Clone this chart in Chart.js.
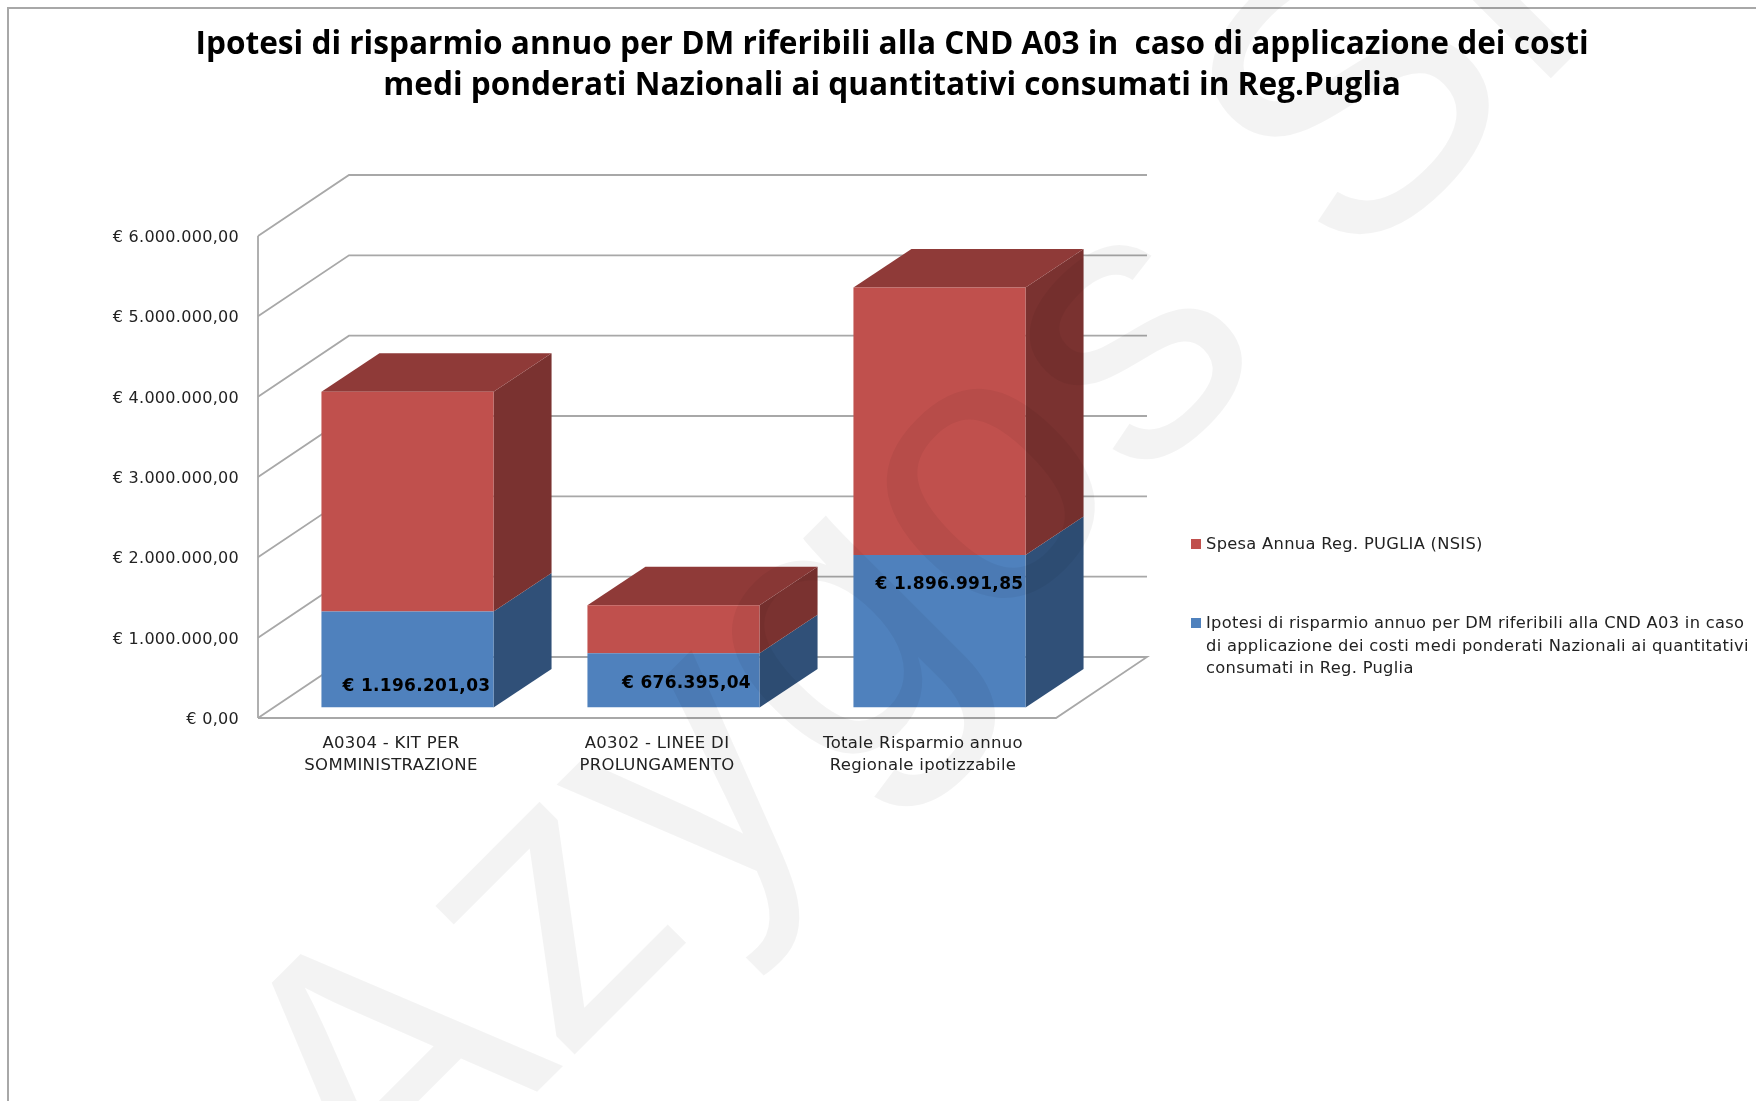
<!DOCTYPE html>
<html>
<head>
<meta charset="utf-8">
<style>
  html, body { margin: 0; background: #fff; }
  canvas { display: block; }
</style>
<script src="https://cdn.jsdelivr.net/npm/chart.js@4"></script>
</head>
<body>
<canvas id="chart" width="1756" height="1101"></canvas>
<script>
const categories = [['A0304 - KIT PER', 'SOMMINISTRAZIONE'], ['A0302 - LINEE DI', 'PROLUNGAMENTO'], ['Totale Risparmio annuo', 'Regionale ipotizzabile']];
const savings = [1196201.03, 676395.04, 1896991.85];
const spending = [2735000, 596000, 3331000];
const savingsLabels = ['€ 1.196.201,03', '€ 676.395,04', '€ 1.896.991,85'];
const yTicks = ['€ 0,00', '€ 1.000.000,00', '€ 2.000.000,00', '€ 3.000.000,00', '€ 4.000.000,00', '€ 5.000.000,00', '€ 6.000.000,00'];
const titleLines = ['Ipotesi di risparmio annuo per DM riferibili alla CND A03 in  caso di applicazione dei costi', 'medi ponderati Nazionali ai quantitativi consumati in Reg.Puglia'];
const spendingName = ['Spesa Annua Reg. PUGLIA (NSIS)'];
const savingsName = ['Ipotesi di risparmio annuo per DM riferibili alla CND A03 in caso', 'di applicazione dei costi medi ponderati Nazionali ai quantitativi', 'consumati in Reg. Puglia'];
const watermark = 'Azygos Srl';

const RED = '#C0504D', BLUE = '#4F81BD';
const FONT = '"DejaVu Sans"';
const SPACING = '0.3px';
// depth of the fake 3D box
const WALL = { dx: 91, dy: -61 };
const BAR = { dx: 58, dy: -38.5 };
const GAP = { dx: 16.5, dy: -10.5 };
const labelShift = [[9, 27], [13, 3], [10, -47]];

const face = (ctx, pts, color) => {
    ctx.fillStyle = color;
    ctx.beginPath();
    pts.forEach((p, i) => i ? ctx.lineTo(p[0], p[1]) : ctx.moveTo(p[0], p[1]));
    ctx.closePath();
    ctx.fill();
};

const box3d = {
    id: 'box3d',
    beforeDraw(chart) {
        chart.ctx.letterSpacing = SPACING;
    },
    beforeDatasetsDraw(chart) {
        const { ctx, chartArea: a, scales: { y } } = chart;
        ctx.save();
        ctx.strokeStyle = '#a8a8a8';
        ctx.lineWidth = 1.8;
        // walls
        yTicks.forEach((t, i) => {
            const py = y.getPixelForValue(i * 1000000);
            ctx.beginPath();
            ctx.moveTo(a.left, py);
            ctx.lineTo(a.left + WALL.dx, py + WALL.dy);
            ctx.lineTo(a.right + WALL.dx, py + WALL.dy);
            if (i === 0) {
                ctx.lineTo(a.right, py);
                ctx.lineTo(a.left, py);
            }
            ctx.stroke();
        });
        ctx.beginPath();
        ctx.moveTo(a.left, a.top);
        ctx.lineTo(a.left, a.bottom);
        ctx.stroke();

        // side and top faces from the bars chart.js laid out
        ctx.translate(GAP.dx, GAP.dy);
        const lower = chart.getDatasetMeta(0).data, upper = chart.getDatasetMeta(1).data;
        lower.forEach((bar, i) => {
            const r = bar.x + bar.width / 2, l = bar.x - bar.width / 2;
            const side = (top, bottom, color) => face(ctx, [[r, top], [r + BAR.dx, top + BAR.dy], [r + BAR.dx, bottom + BAR.dy], [r, bottom]], color);
            side(bar.y, bar.base, '#305078');
            side(upper[i].y, upper[i].base, '#7A3230');
            const t = upper[i].y;
            face(ctx, [[l, t], [l + BAR.dx, t + BAR.dy], [r + BAR.dx, t + BAR.dy], [r, t]], '#8F3A38');
        });
        ctx.restore();
        // front faces are drawn by chart.js, moved to the same plane
        ctx.save();
        ctx.translate(GAP.dx, GAP.dy);
    },
    afterDatasetsDraw(chart) {
        const { ctx } = chart;
        ctx.restore();
        ctx.save();
        ctx.fillStyle = '#000';
        ctx.font = `bold 17px ${FONT}`;
        ctx.textAlign = 'center';
        ctx.textBaseline = 'middle';
        chart.getDatasetMeta(0).data.forEach((bar, i) => {
            const mid = (bar.y + bar.base) / 2;
            ctx.fillText(savingsLabels[i], bar.x + GAP.dx + labelShift[i][0], mid + GAP.dy + labelShift[i][1]);
        });
        ctx.restore();
    },
    afterDraw(chart) {
        const { ctx, width, height } = chart;
        ctx.save();
        // title
        ctx.letterSpacing = '0px';
        ctx.fillStyle = '#000';
        ctx.font = 'bold 31.6px "Open Sans"';
        ctx.textAlign = 'center';
        ctx.textBaseline = 'middle';
        titleLines.forEach((line, i) => ctx.fillText(line, 892, 45 + i * 41));

        // legend
        ctx.letterSpacing = SPACING;
        ctx.textAlign = 'left';
        ctx.font = `16.3px ${FONT}`;
        const legendRow = (color, lines, boxY, textY) => {
            ctx.fillStyle = color;
            ctx.fillRect(1191, boxY, 10, 10);
            ctx.fillStyle = '#222';
            lines.forEach((line, i) => ctx.fillText(line, 1206, textY + i * 22.5));
        };
        legendRow(RED, spendingName, 539, 545);
        legendRow(BLUE, savingsName, 618, 624);

        // frame of the page
        ctx.strokeStyle = '#a8a8a8';
        ctx.lineWidth = 2;
        ctx.beginPath();
        ctx.moveTo(8, height);
        ctx.lineTo(8, 8);
        ctx.lineTo(width, 8);
        ctx.stroke();

        // watermark over everything
        ctx.letterSpacing = '0px';
        ctx.translate(382, 1247);
        ctx.rotate(-45 * Math.PI / 180);
        ctx.fillStyle = 'rgba(0,0,0,0.047)';
        ctx.font = '385px "Liberation Sans"';
        ctx.textBaseline = 'alphabetic';
        ctx.fillText(watermark, 0, 0);
        ctx.restore();
    }
};

new Chart(document.getElementById('chart'), {
    type: 'bar',
    data: {
        labels: categories,
        datasets: [
            { label: savingsName.join(' '), data: savings, backgroundColor: BLUE, stack: 'a' },
            { label: spendingName.join(' '), data: spending, backgroundColor: RED, stack: 'a' }
        ]
    },
    options: {
        responsive: false,
        animation: false,
        layout: { padding: { top: 236, right: 700, bottom: 283, left: 0 } },
        categoryPercentage: 1,
        barPercentage: 0.647,
        plugins: { legend: { display: false }, tooltip: { enabled: false } },
        scales: {
            x: {
                stacked: true,
                grid: { display: false },
                border: { display: false },
                ticks: { color: '#222', font: { family: FONT, size: 16.5, lineHeight: 1.36 }, padding: 6, maxRotation: 0, autoSkip: false },
                afterFit: (s) => { s.height = 100; }
            },
            y: {
                stacked: true,
                min: 0,
                max: 6000000,
                grid: { display: false, drawTicks: false },
                border: { display: false },
                ticks: {
                    stepSize: 1000000,
                    color: '#222',
                    padding: 19,
                    labelOffset: 2,
                    font: { family: FONT, size: 16 },
                    callback: (v) => yTicks[v / 1000000]
                },
                afterFit: (s) => { s.width = 258; }
            }
        }
    },
    plugins: [box3d]
});
</script>
</body>
</html>
